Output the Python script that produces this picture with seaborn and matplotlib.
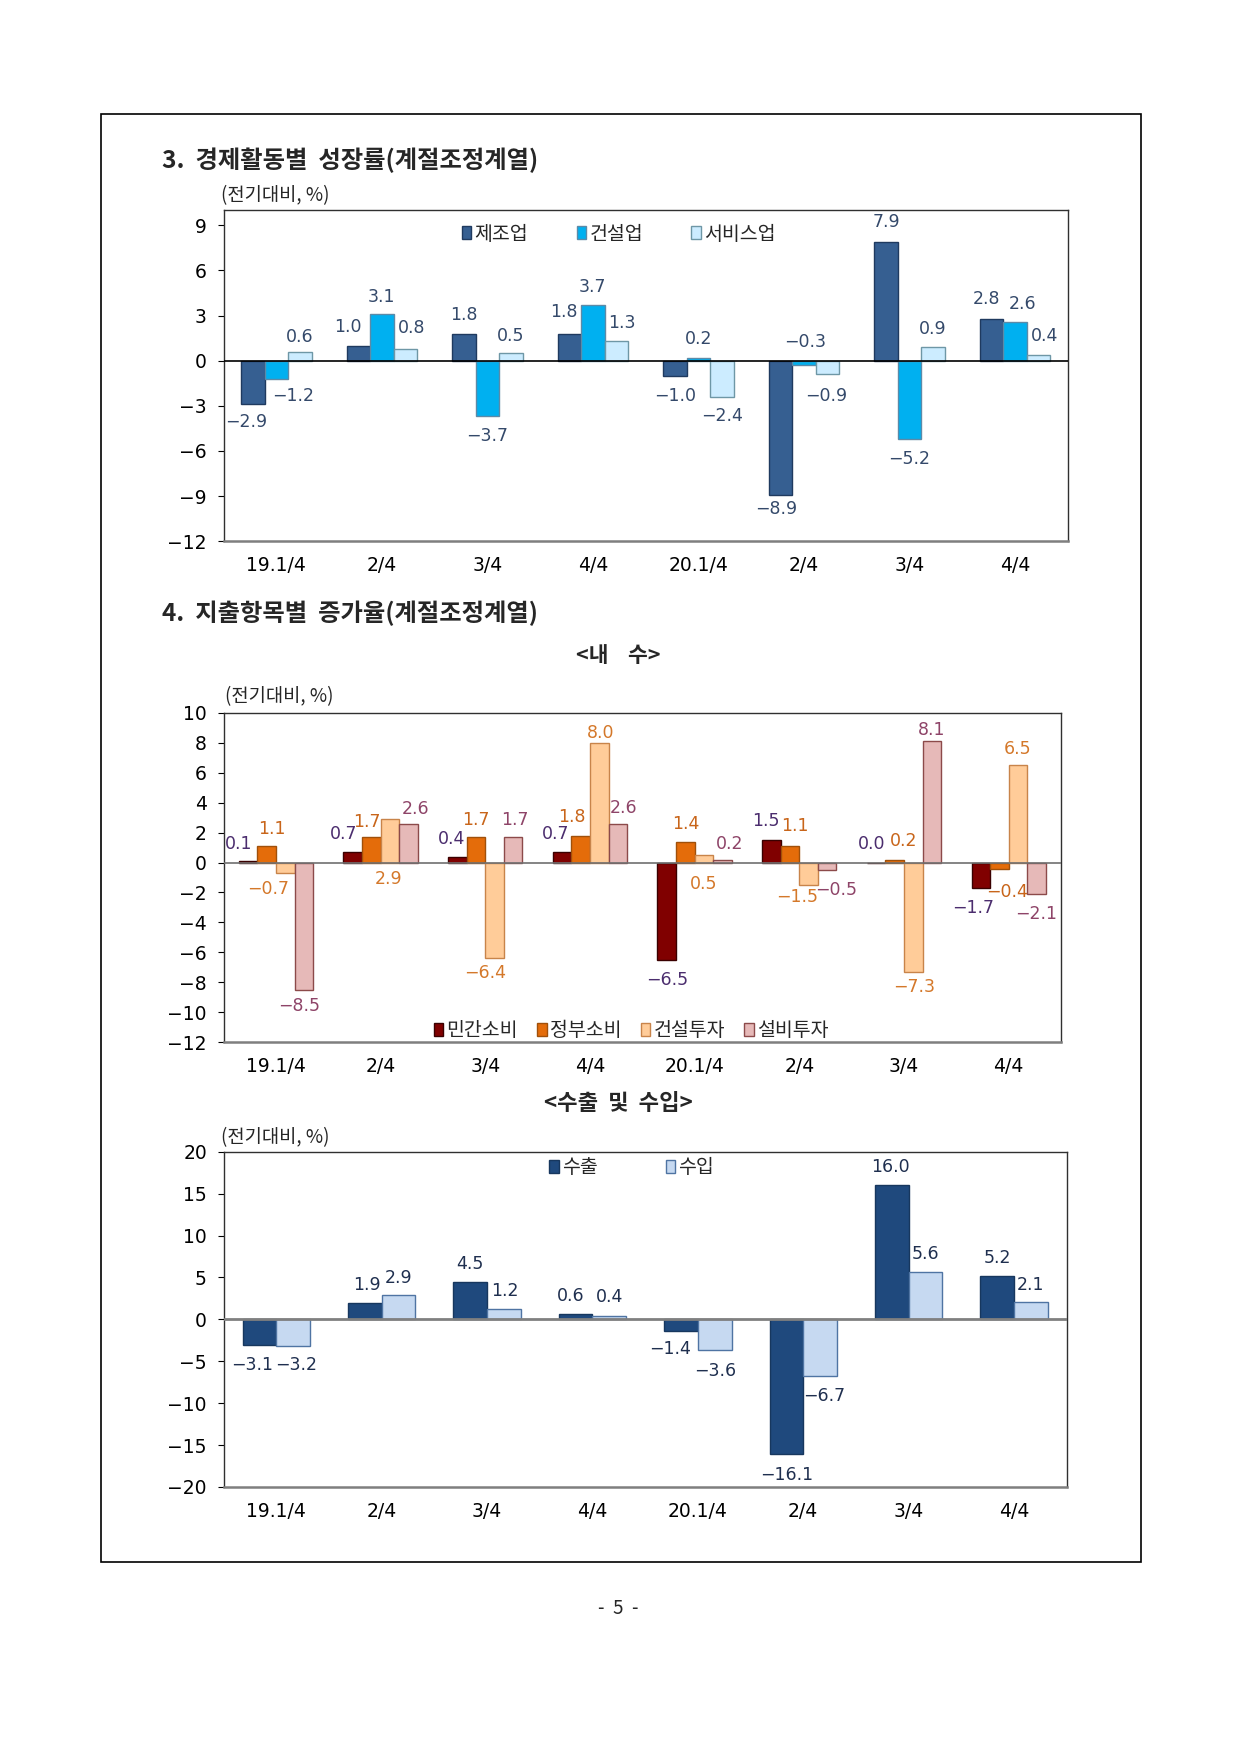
import numpy as np
import pandas as pd
import matplotlib
matplotlib.use("Agg")
import matplotlib.pyplot as plt
from matplotlib.patches import Patch, Rectangle
import seaborn as sns

# ---------------- data ----------------
quarters = ["19Q1", "19Q2", "19Q3", "19Q4", "20Q1", "20Q2", "20Q3", "20Q4"]
tick_labels = ["19.1/4", "2/4", "3/4", "4/4", "20.1/4", "2/4", "3/4", "4/4"]

industry_names = ["제조업", "건설업", "서비스업"]
manufacturing = [-2.9, 1.0, 1.8, 1.8, -1.0, -8.9, 7.9, 2.8]
construction = [-1.2, 3.1, -3.7, 3.7, 0.2, -0.3, -5.2, 2.6]
services = [0.6, 0.8, 0.5, 1.3, -2.4, -0.9, 0.9, 0.4]

demand_names = ["민간소비", "정부소비", "건설투자", "설비투자"]
private_cons = [0.1, 0.7, 0.4, 0.7, -6.5, 1.5, 0.0, -1.7]
gov_cons = [1.1, 1.7, 1.7, 1.8, 1.4, 1.1, 0.2, -0.4]
constr_inv = [-0.7, 2.9, -6.4, 8.0, 0.5, -1.5, -7.3, 6.5]
equip_inv = [-8.5, 2.6, 1.7, 2.6, 0.2, -0.5, 8.1, -2.1]

trade_names = ["수출", "수입"]
exports = [-3.1, 1.9, 4.5, 0.6, -1.4, -16.1, 16.0, 5.2]
imports = [-3.2, 2.9, 1.2, 0.4, -3.6, -6.7, 5.6, 2.1]

# ---------------- label offsets (points) ----------------
p1_dx = [[-4.5, -7.3, 0, -3.8, 0, -3, 0, -3.7],
         [12, 0, 0, 0, 0, 0.6, 0, 5.7],
         [0, 4.6, 0, 4, 0, -1, 0, 4.6]]
p1_dy = [[-12.5, 13.2, 13.2, 15.6, -14.4, -10.4, 14.1, 14.3],
         [-12.4, 12.5, -14.5, 13, 13.5, 16.7, -14.5, 12.9],
         [10.8, 14.6, 12.1, 13.1, -14.1, -15.5, 13.3, 13.2]]
p2_dx = [[-7, -6.8, -4.3, -4.3, 0, -3.7, -3.2, -5.5],
         [3.6, -3.3, 0, -6.2, 0, 3.6, 6.2, 5.2],
         [-12, -1, -7, 1, 0, -8.5, 0.7, 0],
         [-3.5, 4.8, 1, 4.4, 5.4, 6.5, 0, 0]]
p2_dy = [[12.2, 12.9, 12.5, 12.9, -14.5, 13.9, 13.2, -14.5],
         [12.2, 11.2, 12.2, 13.5, 12.6, 14.6, 13, -17],
         [-11.5, -43, -10.8, 7, -21, -9, -11, 12.1],
         [-11.7, 10.4, 12.2, 11.6, 11, -14.5, 8.1, -14.5]]
p3_dx = [[-5.5, 1.4, 0, -3.5, -7.7, 0, -1, 0],
         [2, 0, 0.4, 0, 0, 3.3, 0, 0]]
p3_dy = [[-14.4, 13, 12.7, 13, -12.7, -15.2, 13, 12.8],
         [-13.8, 12.5, 12.9, 13.7, -15.2, -14.5, 13.3, 12.3]]

# ---------------- style ----------------
sns.set_theme(style="white")
KFONT = ["Noto Sans CJK KR", "DejaVu Sans"]
NFONT = ["DejaVu Sans"]
plt.rcParams["font.family"] = KFONT
plt.rcParams["axes.unicode_minus"] = True

W, H = 1240, 1754
fig = plt.figure(figsize=(W / 100, H / 100), dpi=100)
fig.patch.set_facecolor("white")


def fx(x):
    return x / W


def fy(y):
    return 1 - y / H


def fmt(v):
    s = f"{v:.1f}"
    return s.replace("-", "\u2212")


def draw_panel(ax, names, series, faces, edges, label_colors, width, ylim, yticks,
               dxs, dys, zero_color, zero_lw, legend_loc, colspacing):
    df = pd.DataFrame({
        "quarter": np.tile(quarters, len(names)),
        "series": np.repeat(names, len(quarters)),
        "value": np.concatenate([np.asarray(s, dtype=float) for s in series]),
    })
    sns.barplot(data=df, x="quarter", y="value", hue="series", order=quarters,
                hue_order=names, palette=dict(zip(names, faces)), width=width,
                gap=0, errorbar=None, legend=False, ax=ax, saturation=1,
                linewidth=1.0)
    for cont, ec, vals, lc, dx, dy in zip(ax.containers, edges, series,
                                          label_colors, dxs, dys):
        for rect, v, ddx, ddy in zip(cont, vals, dx, dy):
            rect.set_edgecolor(ec)
            rect.set_linewidth(1.0)
            xc = rect.get_x() + rect.get_width() / 2
            ax.annotate(fmt(v), xy=(xc, v), xytext=(ddx, ddy),
                        textcoords="offset points", ha="center", va="center",
                        fontsize=12.5, color=lc, family=NFONT)
    ax.axhline(0, color=zero_color, lw=zero_lw, zorder=3)
    ax.set_xlim(-0.5, len(quarters) - 0.5)
    ax.set_ylim(*ylim)
    ax.set_yticks(yticks)
    ax.set_yticklabels([fmt(t).replace(".0", "") for t in yticks], family=NFONT)
    ax.set_xticks(range(len(quarters)))
    ax.set_xticklabels(tick_labels, family=NFONT)
    ax.set_xlabel("")
    ax.set_ylabel("")
    ax.tick_params(axis="y", which="major", left=True, length=4, width=0.8,
                   color="black", labelsize=13.5, pad=8, labelcolor="black")
    ax.tick_params(axis="x", bottom=False, labelsize=13.5, pad=5,
                   labelcolor="black")
    for side in ["left", "top", "right"]:
        ax.spines[side].set_color("#303030")
        ax.spines[side].set_linewidth(1.0)
        ax.spines[side].set_visible(True)
    ax.spines["bottom"].set_color("#7F7F7F")
    ax.spines["bottom"].set_linewidth(1.8)
    ax.spines["bottom"].set_visible(True)
    ax.grid(False)
    handles = [Patch(facecolor=f, edgecolor=e, linewidth=1.0, label=n)
               for n, f, e in zip(names, faces, edges)]
    ax.legend(handles=handles, loc="center", bbox_to_anchor=legend_loc,
              ncol=len(names), frameon=False, fontsize=14,
              handlelength=0.5, handleheight=0.65, handletextpad=0.15,
              columnspacing=colspacing, borderpad=0.1)


# ---------------- panel 1 ----------------
ax1 = fig.add_axes([fx(223.6), fy(541.2), fx(1067.8 - 223.6), (541.2 - 210.2) / H])
draw_panel(ax1, industry_names, [manufacturing, construction, services],
           ["#365F91", "#00B0F0", "#CCECFF"],
           ["#1F3A5F", "#5C8AA8", "#6E97A6"],
           ["#34496A"] * 3, 0.666, (-12, 10), [-12, -9, -6, -3, 0, 3, 6, 9],
           p1_dx, p1_dy, "#000000", 1.2, (0.468, 0.928), 2.5)

# ---------------- panel 2 ----------------
ax2 = fig.add_axes([fx(223.6), fy(1042), fx(1061 - 223.6), (1042 - 713) / H])
draw_panel(ax2, demand_names, [private_cons, gov_cons, constr_inv, equip_inv],
           ["#800000", "#E46C0A", "#FFCC99", "#E6B9B8"],
           ["#3A0000", "#A0500A", "#C8844A", "#8C4A4A"],
           ["#4B2D6E", "#C8651A", "#D4782A", "#8E4468"], 0.71, (-12, 10),
           list(range(-12, 11, 2)), p2_dx, p2_dy, "#707070", 1.2,
           (0.4865, 0.034), 1.0)

# ---------------- panel 3 ----------------
ax3 = fig.add_axes([fx(223.6), fy(1487), fx(1066.7 - 223.6), (1487 - 1151.7) / H])
draw_panel(ax3, trade_names, [exports, imports],
           ["#1F497D", "#C6D9F1"], ["#17375E", "#4F74A3"],
           ["#1F2F4F"] * 2, 0.64, (-20, 20), list(range(-20, 21, 5)),
           p3_dx, p3_dy, "#808080", 2.0, (0.484, 0.952), 3.5)

# ---------------- page text ----------------
fig.text(fx(162), fy(160), "3.  경제활동별  성장률(계절조정계열)", fontsize=17.5,
         fontweight="bold", ha="left", va="center", family=KFONT)
fig.text(fx(162), fy(613), "4.  지출항목별  증가율(계절조정계열)", fontsize=17.5,
         fontweight="bold", ha="left", va="center", family=KFONT)
fig.text(fx(618), fy(655), "<내    수>", fontsize=15.5, fontweight="bold",
         ha="center", va="center", family=KFONT)
fig.text(fx(618), fy(1104), "<수출  및  수입>", fontsize=16, fontweight="bold",
         ha="center", va="center", family=KFONT)
for x, y in [(221, 196), (225, 697), (221, 1138)]:
    fig.text(fx(x), fy(y), "(전기대비, %)", fontsize=13.5, ha="left",
             va="center", family=KFONT)
fig.text(fx(618), fy(1608), "-  5  -", fontsize=13.5, ha="center", va="center",
         family=KFONT)

fig.add_artist(Rectangle((fx(100.6), fy(1562)), fx(1140.5 - 100.6),
                         (1562 - 114) / H, transform=fig.transFigure,
                         fill=False, lw=1.2, ec="black"))

fig.savefig("out.png", dpi=100, facecolor="white")
